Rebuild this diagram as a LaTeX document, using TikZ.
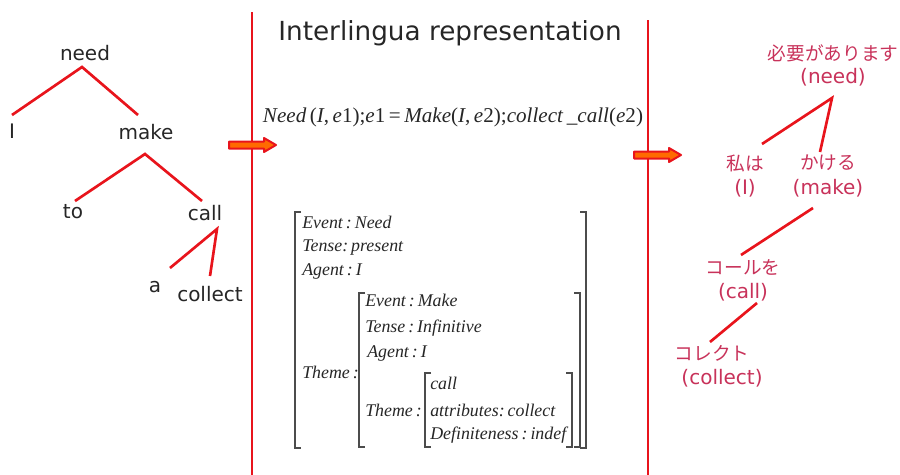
\documentclass[tikz,border=0pt]{standalone}
\usepackage{fontspec}
\usepackage{graphicx}
\setmainfont{DejaVu Sans}
\newfontfamily\tms{Liberation Serif}
\newfontfamily\jpf{Noto Sans CJK JP}
\definecolor{jred}{HTML}{C8325A}
\definecolor{lred}{HTML}{E8141C}
\definecolor{aorg}{HTML}{FF6A00}
\begin{document}
\begin{tikzpicture}[x=0.75pt,y=-0.75pt,
  treetxt/.style={font=\fontsize{15}{18}\selectfont, inner sep=0pt, text=black!85},
  tline/.style={draw=lred, line width=2pt},
  sepline/.style={draw=lred, line width=2.2pt},
  jtxt/.style={text=jred, font=\jpf\fontsize{14}{16}\selectfont, inner sep=0pt},
  jlat/.style={text=jred, font=\fontsize{15}{18}\selectfont, inner sep=0pt},
  fs/.style={font=\tms\itshape\fontsize{13.4}{15}\selectfont, anchor=west, inner sep=0pt, text=black!85},
  brk/.style={draw=black!70, line width=0.8pt},
  fatarrow/.style={fill=aorg, draw=lred, line width=1.5pt, line join=round}
]
\useasboundingbox (0,0) rectangle (900,475);

% separators
\coordinate (s1t) at (252,12); \coordinate (s1b) at (252,475);
\coordinate (s2t) at (648,20); \coordinate (s2b) at (648,475);
\draw[sepline] (s1t) -- (s1b);
\draw[sepline] (s2t) -- (s2b);

% title
\node[font=\fontsize{19.7}{23}\selectfont, text=black!85, inner sep=0pt] (title) at (450,33) {Interlingua representation};

% left tree
\node[treetxt] (need) at (85,53) {need};
\node[treetxt] (I) at (12,131) {I};
\node[treetxt] (make) at (146,132) {make};
\node[treetxt] (to) at (73,212) {to};
\node[treetxt] (call) at (205,213) {call};
\node[treetxt] (a) at (155,287) {a};
\node[treetxt] (collect) at (210,294) {collect};
\coordinate (needb) at (82,67);
\coordinate (It) at (12,115);
\coordinate (maket) at (138,115);
\coordinate (makeb) at (145,154);
\coordinate (tot) at (75,201);
\coordinate (callt) at (202,201);
\coordinate (callb) at (217,229);
\coordinate (at) at (170,268);
\coordinate (collt) at (210,276);
\draw[tline] (It) -- (needb) -- (maket);
\draw[tline] (tot) -- (makeb) -- (callt);
\draw[tline] (at) -- (callb) -- (collt);

% arrows
\draw[fatarrow] (229,141.5) -- (264,141.5) -- (264,138) -- (276,145) -- (264,152) -- (264,148.5) -- (229,148.5) -- cycle;
\draw[fatarrow] (634,151.5) -- (669,151.5) -- (669,148) -- (681,155) -- (669,162) -- (669,158.5) -- (634,158.5) -- cycle;

% formula
\node[inner sep=0pt, text=black!85] (formula) at (453,117) {\resizebox{285pt}{!}{\tms
  \textit{Need}\,(\textit{I},\,\textit{e}1);\textit{e}1\,=\,\textit{Make}(\textit{I},\,\textit{e}2);\textit{collect}\,\_\textit{call}(\textit{e}2)}};

% feature structure
\node[fs] (ev1) at (302,222) {Event\,:\,Need};
\node[fs] (te1) at (302,248) {Tense:\,present};
\node[fs] (ag1) at (302,272) {Agent\,:\,I};
\node[fs] (th1) at (302,372) {Theme\,:};
\node[fs] (ev2) at (365,300) {Event\,:\,Make};
\node[fs] (te2) at (365,328) {Tense\,:\,Infinitive};
\node[fs] (ag2) at (367,353) {Agent\,:\,I};
\node[fs] (th2) at (365,410) {Theme\,:};
\node[fs] (ca3) at (430,383) {call};
\node[fs] (at3) at (430,410) {attributes:\,collect};
\node[fs] (de3) at (430,435) {Definiteness\,:\,indef};

% brackets
\draw[brk] (301,212) -- (295,212) -- (295,448) -- (301,448);
\draw[brk] (580,212) -- (586,212) -- (586,448) -- (580,448);
\draw[brk] (365,293) -- (359,293) -- (359,447) -- (365,447);
\draw[brk] (574,293) -- (580,293) -- (580,447) -- (574,447);
\draw[brk] (431,373) -- (425,373) -- (425,447) -- (431,447);
\draw[brk] (566,373) -- (572,373) -- (572,447) -- (566,447);

% right tree
\node[jtxt] (jneed) at (833,53) {必要があります};
\node[jlat] (jneedl) at (833,77) {(need)};
\node[jtxt] (jI) at (745,163) {私は};
\node[jlat] (jIl) at (745,188) {(I)};
\node[jtxt] (jmake) at (828,163) {かける};
\node[jlat] (jmakel) at (828,188) {(make)};
\node[jtxt] (jcall) at (743,267) {コールを};
\node[jlat] (jcalll) at (743,292) {(call)};
\node[jtxt] (jcoll) at (712,353) {コレクト};
\node[jlat] (jcolll) at (722,378) {(collect)};
\coordinate (jneedb) at (832,98);
\coordinate (jIt) at (762,144);
\coordinate (jmaket) at (820,152);
\coordinate (jmakeb) at (813,208);
\coordinate (jcallt) at (741,255);
\coordinate (jcallb) at (757,303);
\coordinate (jcollt) at (710,342);
\draw[tline] (jIt) -- (jneedb) -- (jmaket);
\draw[tline] (jmakeb) -- (jcallt);
\draw[tline] (jcallb) -- (jcollt);
\end{tikzpicture}
\end{document}
